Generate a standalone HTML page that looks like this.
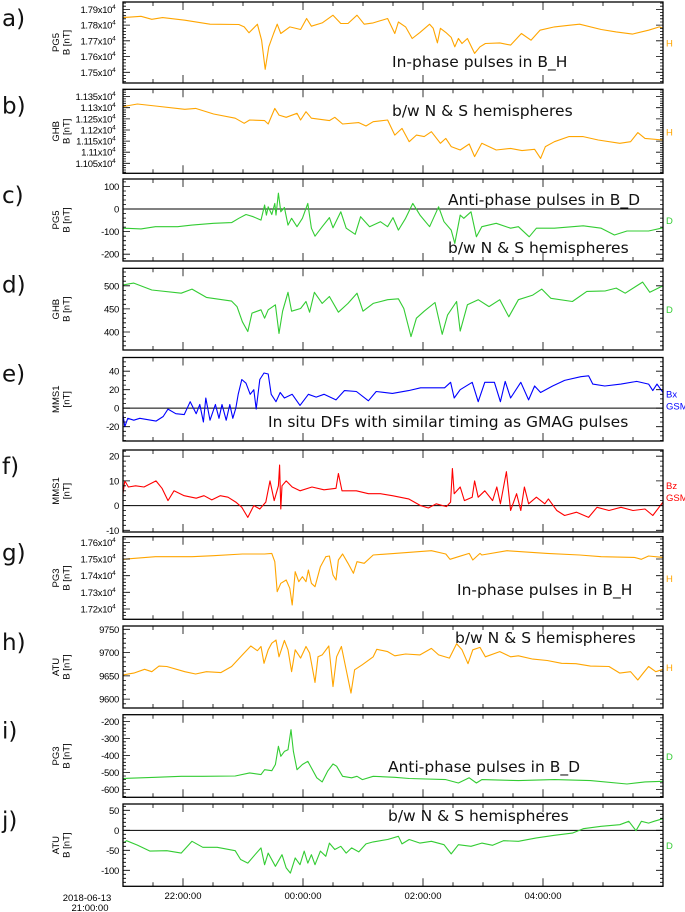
<!DOCTYPE html>
<html><head><meta charset="utf-8">
<style>
html,body{margin:0;padding:0;background:#fff;}
svg{display:block;}
.tl{font-family:"Liberation Sans",Arial,sans-serif;font-size:9.5px;fill:#000;}
.ytl{font-family:"Liberation Sans",Arial,sans-serif;font-size:9.5px;fill:#000;letter-spacing:-0.3px;}
.ann{font-family:"DejaVu Sans","Liberation Sans",sans-serif;font-size:15.5px;fill:#111;}
.let{font-family:"DejaVu Sans","Liberation Sans",sans-serif;font-size:23px;fill:#111;}
</style></head>
<body>
<svg id="chart" width="685" height="912" viewBox="0 0 685 912" xmlns="http://www.w3.org/2000/svg"></svg>
<script>
// ---- data: time in hours since 2018-06-13 21:00 ----
const aTimes=[0,0.30,0.48,0.66,1.03,1.45,1.93,2.02,2.10,2.24,2.31,2.37,2.43,2.51,2.57,2.63,2.78,2.96,3.06,3.14,3.32,3.50,3.63,3.75,3.90,4.02,4.17,4.41,4.53,4.59,4.71,4.82,4.95,5.11,5.17,5.24,5.29,5.38,5.47,5.53,5.59,5.65,5.74,5.86,5.95,6.04,6.28,6.46,6.64,6.80,6.95,7.19,7.43,7.61,7.97,8.22,8.49,8.76,8.94,9.0];
const aValues=[17848,17856,17837,17848,17831,17806,17804,17789,17751,17806,17704,17519,17662,17747,17806,17747,17789,17772,17842,17793,17814,17863,17810,17810,17863,17806,17814,17842,17747,17820,17789,17715,17754,17806,17780,17687,17780,17754,17722,17662,17715,17683,17715,17620,17662,17683,17687,17673,17747,17704,17768,17789,17799,17806,17772,17757,17743,17768,17789,17780];
const bTimes=[0,0.24,0.54,1.03,1.21,1.51,1.87,2.02,2.11,2.36,2.42,2.53,2.60,2.72,2.90,2.96,3.05,3.14,3.44,3.53,3.66,3.93,4.05,4.17,4.41,4.53,4.65,4.77,4.89,5.02,5.14,5.29,5.38,5.47,5.62,5.77,5.86,5.98,6.10,6.22,6.46,6.65,6.86,6.96,7.04,7.19,7.43,7.67,7.92,8.28,8.46,8.58,8.70,9.0];
const bValues=[11305,11317,11308,11293,11297,11272,11253,11230,11245,11242,11227,11297,11267,11257,11275,11245,11282,11253,11242,11257,11227,11233,11218,11237,11245,11177,11207,11147,11177,11170,11192,11140,11162,11125,11110,11137,11080,11140,11125,11110,11117,11107,11113,11072,11125,11147,11170,11170,11155,11140,11147,11188,11162,11155];
const cTimes=[0,0.30,0.54,0.91,1.15,1.51,1.81,1.93,2.05,2.17,2.30,2.36,2.39,2.42,2.48,2.53,2.55,2.59,2.63,2.69,2.75,2.81,2.90,2.99,3.08,3.14,3.20,3.32,3.44,3.50,3.63,3.72,3.87,3.96,4.11,4.29,4.41,4.50,4.59,4.71,4.83,4.95,5.11,5.26,5.35,5.47,5.53,5.62,5.68,5.80,5.89,5.98,6.22,6.46,6.59,6.77,6.89,7.19,7.67,7.97,8.19,8.40,8.76,9.0];
const cValues=[-85,-88,-78,-78,-71,-63,-60,-41,-24,-34,-49,18,-27,10,-24,25,-27,70,-12,7,-71,-41,-78,-41,25,-85,-120,-78,-38,-83,-12,-85,-112,-34,-78,-56,-78,-38,-93,-41,25,-27,-78,10,-56,-93,-152,-27,-41,-12,-123,-78,-63,-85,-78,-123,-85,-85,-74,-85,-115,-97,-97,-83];
const dTimes=[0,0.18,0.48,0.97,1.15,1.39,1.81,1.90,1.99,2.08,2.15,2.30,2.36,2.42,2.54,2.60,2.66,2.75,2.81,2.96,3.05,3.11,3.19,3.32,3.44,3.59,3.75,3.90,4.00,4.17,4.41,4.59,4.68,4.80,4.89,5.02,5.20,5.32,5.41,5.56,5.62,5.74,5.92,6.10,6.28,6.43,6.59,6.83,6.98,7.13,7.49,7.73,8.04,8.22,8.37,8.66,8.78,9.0];
const dValues=[502,506,491,484,493,475,467,455,422,401,441,448,430,448,459,397,445,486,445,451,466,443,486,462,477,443,462,484,445,462,470,472,451,390,430,445,464,395,437,466,402,459,470,455,470,433,470,480,493,473,466,488,489,495,484,508,486,500];
const eTimes=[0,0.03,0.08,0.18,0.28,0.55,0.67,0.75,0.88,1.02,1.12,1.22,1.28,1.34,1.38,1.45,1.54,1.60,1.65,1.72,1.78,1.83,1.88,1.92,1.98,2.05,2.12,2.18,2.22,2.28,2.35,2.42,2.47,2.55,2.62,2.69,2.82,2.95,3.09,3.22,3.35,3.55,3.69,3.89,4.09,4.22,4.49,4.76,4.96,5.36,5.46,5.52,5.62,5.82,5.92,6.03,6.19,6.29,6.37,6.46,6.63,6.76,6.86,6.96,7.16,7.36,7.63,7.76,7.83,8.03,8.30,8.56,8.76,8.83,8.90,9.0];
const eValues=[-7,-20,-11,-13,-11,-14,-9,-1,-6,-7,7,-6,4,-15,11,-13,4,-11,4,-13,4,-11,0,15,31,27,15,20,-1,31,38,37,15,7,17,11,15,3,15,12,15,9,19,18,8,18,16,19,22,22,28,11,20,28,7,28,28,7,29,11,28,9,24,17,24,30,34,35,26,24,26,29,26,19,26,17];
const fTimes=[0,0.03,0.09,0.21,0.35,0.55,0.65,0.75,0.85,1.02,1.22,1.35,1.48,1.62,1.75,1.88,1.98,2.08,2.18,2.28,2.38,2.45,2.52,2.59,2.61,2.63,2.65,2.72,2.82,2.95,3.15,3.35,3.55,3.59,3.65,3.89,4.09,4.29,4.49,4.76,4.96,5.09,5.22,5.39,5.46,5.49,5.52,5.62,5.69,5.82,5.86,5.92,6.03,6.16,6.23,6.29,6.39,6.46,6.56,6.63,6.69,6.76,6.89,7.03,7.09,7.23,7.36,7.56,7.76,7.90,8.10,8.30,8.50,8.70,8.83,9.0];
const fValues=[4.8,10,7.5,8,7.5,10,7,2,6,4,3,4,2.3,4,3.4,1.4,-0.7,-4.8,0,-1.4,1.4,10,2,8,16.4,-1.4,8,10,7.5,6,7.5,6.4,7,13,6,6,4.8,4.8,4,2.7,0,-1,0.7,-0.4,1.4,15,4.8,7.5,2,3.4,10,3.4,6,2,7.5,0.7,13.7,-2,4.8,-2,7.5,0.7,3.4,0.7,2.7,-2,-4,-2.7,-4.8,-0.7,-2,-0.7,-2,-1.4,-4,1.4];
const gTimes=[0,0.54,1.15,1.51,1.99,2.36,2.48,2.53,2.57,2.63,2.72,2.78,2.82,2.87,2.93,2.99,3.05,3.09,3.14,3.20,3.29,3.38,3.44,3.50,3.55,3.59,3.66,3.75,3.84,3.90,4.02,4.17,4.53,5.14,5.38,5.45,5.59,5.77,5.83,5.95,5.98,6.40,7.07,7.61,7.97,8.52,8.64,8.76,9.0];
const gValues=[17498,17514,17514,17520,17530,17530,17534,17484,17304,17354,17374,17324,17224,17424,17364,17394,17364,17434,17354,17334,17454,17514,17518,17404,17374,17494,17530,17474,17414,17484,17474,17524,17534,17550,17530,17498,17514,17534,17494,17534,17524,17550,17534,17524,17514,17510,17498,17518,17510];
const hTimes=[0,0.18,0.36,0.48,0.60,0.73,1.03,1.21,1.39,1.63,1.81,1.99,2.13,2.24,2.30,2.35,2.42,2.48,2.55,2.60,2.69,2.75,2.81,2.87,2.96,3.05,3.11,3.20,3.25,3.32,3.43,3.50,3.56,3.64,3.72,3.80,3.86,3.99,4.17,4.23,4.41,4.53,4.71,4.95,5.14,5.26,5.44,5.56,5.65,5.75,5.83,5.95,6.04,6.28,6.46,6.59,6.83,7.07,7.31,7.55,7.79,8.10,8.28,8.46,8.58,8.67,8.76,8.88,9.0];
const hValues=[9652,9656,9664,9659,9671,9670,9659,9654,9659,9657,9670,9695,9714,9704,9713,9677,9706,9720,9727,9691,9726,9706,9659,9706,9688,9713,9699,9636,9691,9695,9714,9627,9691,9713,9663,9613,9663,9674,9691,9707,9702,9693,9697,9695,9709,9695,9688,9719,9706,9676,9706,9711,9691,9702,9691,9693,9686,9683,9677,9676,9671,9670,9656,9659,9641,9656,9670,9659,9664];
const iTimes=[0,0.54,0.97,1.33,1.87,2.11,2.30,2.36,2.48,2.54,2.59,2.63,2.69,2.75,2.80,2.84,2.90,2.99,3.08,3.14,3.23,3.32,3.41,3.50,3.56,3.66,3.81,3.90,3.99,4.17,4.53,4.77,5.38,5.59,5.77,5.89,5.98,6.59,7.19,7.79,8.40,8.70,9.0];
const iValues=[-535,-528,-522,-522,-520,-502,-512,-483,-489,-453,-346,-405,-376,-366,-249,-376,-483,-453,-434,-473,-531,-555,-492,-450,-463,-522,-531,-522,-541,-522,-528,-535,-541,-561,-531,-561,-541,-547,-541,-547,-567,-555,-551];
const jTimes=[0,0.06,0.24,0.45,0.73,0.97,1.15,1.33,1.57,1.87,1.96,2.08,2.20,2.30,2.36,2.42,2.54,2.65,2.72,2.79,2.87,2.95,3.02,3.08,3.14,3.20,3.29,3.38,3.44,3.53,3.63,3.72,3.81,3.93,4.05,4.17,4.41,4.59,4.65,4.77,4.95,5.14,5.35,5.47,5.59,5.80,5.98,6.16,6.34,6.59,6.89,7.19,7.49,7.67,7.97,8.28,8.43,8.55,8.64,8.76,8.85,9.0];
const jValues=[-32,-26,-37,-52,-51,-57,-27.5,-42.5,-42.5,-51,-73,-82,-61,-44,-86,-57,-90,-61,-94,-107,-69,-86,-52,-82,-61,-86,-52,-65,-32,-48,-40,-57,-44,-54,-34,-29,-23,-15,-34,-23,-32,-27.5,-36,-59,-36,-40,-32,-37.5,-26,-27.5,-19,-12.5,-7,4,10,14,22.5,-1,22.5,18,22.5,29];
// tick values and labels
const aTicks=[17500,17600,17700,17800,17900]; const aLabels=['1.75','1.76','1.77','1.78','1.79'];
const bTicks=[11050,11100,11150,11200,11250,11300,11350]; const bLabels=['1.105','1.11','1.115','1.12','1.125','1.13','1.135'];
const cTicks=[-200,-100,0,100]; const cLabels=['-200','-100','0','100'];
const dTicks=[400,450,500]; const dLabels=['400','450','500'];
const eTicks=[-20,0,20,40]; const eLabels=['-20','0','20','40'];
const fTicks=[-10,0,10,20]; const fLabels=['-10','0','10','20'];
const gTicks=[17200,17300,17400,17500,17600]; const gLabels=['1.72','1.73','1.74','1.75','1.76'];
const hTicks=[9600,9650,9700,9750]; const hLabels=['9600','9650','9700','9750'];
const iTicks=[-600,-500,-400,-300,-200]; const iLabels=['-600','-500','-400','-300','-200'];
const jTicks=[-100,-50,0,50]; const jLabels=['-100','-50','0','50'];
const xTickHours=[1,3,5,7]; const xTickLabels=['22:00:00','00:00:00','02:00:00','04:00:00'];

const X0=123,X1=663,T0=0,T1=9;
function xs(t){return X0+(t-T0)/(T1-T0)*(X1-X0);}
const ORANGE='#ffa500',GREEN='#33cc33',BLUE='#0000ff',RED='#ff0000';
const panels=[
 {id:'a',top:2,bot:83,min:17432,max:17947,t:aTimes,v:aValues,ticks:aTicks,labels:aLabels,exp:true,minor:20,color:ORANGE,st:'PG5',u:'B [nT]',rl:['H'],zero:false,ann:[['In-phase pulses in B_H',392,67]]},
 {id:'b',top:89.3,bot:173.3,min:11005,max:11383,t:bTimes,v:bValues,ticks:bTicks,labels:bLabels,exp:true,minor:10,color:ORANGE,st:'GHB',u:'B [nT]',rl:['H'],zero:false,ann:[['b/w N & S hemispheres',392,116]]},
 {id:'c',top:179,bot:261,min:-230,max:133,t:cTimes,v:cValues,ticks:cTicks,labels:cLabels,minor:20,color:GREEN,st:'PG5',u:'B [nT]',rl:['D'],zero:true,ann:[['Anti-phase pulses in B_D',448,205],['b/w N & S hemispheres',448,253]]},
 {id:'d',top:268.3,bot:350,min:361,max:538,t:dTimes,v:dValues,ticks:dTicks,labels:dLabels,minor:10,color:GREEN,st:'GHB',u:'B [nT]',rl:['D'],zero:false,ann:[]},
 {id:'e',top:357.5,bot:441,min:-35.5,max:54.8,t:eTimes,v:eValues,ticks:eTicks,labels:eLabels,minor:5,color:BLUE,st:'MMS1',u:'[nT]',rl:['Bx','GSM'],zero:true,ann:[['In situ DFs with similar timing as GMAG pulses',268,427]]},
 {id:'f',top:450,bot:532,min:-10.7,max:22.5,t:fTimes,v:fValues,ticks:fTicks,labels:fLabels,minor:2,color:RED,st:'MMS1',u:'[nT]',rl:['Bz','GSM'],zero:true,ann:[]},
 {id:'g',top:536.7,bot:619.3,min:17138,max:17634,t:gTimes,v:gValues,ticks:gTicks,labels:gLabels,exp:true,minor:20,color:ORANGE,st:'PG3',u:'B [nT]',rl:['H'],zero:false,ann:[['In-phase pulses in B_H',457,595]]},
 {id:'h',top:626,bot:708,min:9581,max:9757,t:hTimes,v:hValues,ticks:hTicks,labels:hLabels,minor:10,color:ORANGE,st:'ATU',u:'B [nT]',rl:['H'],zero:false,ann:[['b/w N & S hemispheres',455,643]]},
 {id:'i',top:714.7,bot:797.3,min:-645,max:-161,t:iTimes,v:iValues,ticks:iTicks,labels:iLabels,minor:20,color:GREEN,st:'PG3',u:'B [nT]',rl:['D'],zero:false,ann:[['Anti-phase pulses in B_D',388,772]]},
 {id:'j',top:804,bot:886.3,min:-140,max:65.8,t:jTimes,v:jValues,ticks:jTicks,labels:jLabels,minor:10,color:GREEN,st:'ATU',u:'B [nT]',rl:['D'],zero:true,ann:[['b/w N & S hemispheres',388,821]]}
];
const NS='http://www.w3.org/2000/svg';
const svg=document.getElementById('chart');
function mk(tag,attrs,parent){const e=document.createElementNS(NS,tag);for(const k in attrs)e.setAttribute(k,attrs[k]);(parent||svg).appendChild(e);return e;}

panels.forEach(p=>{
  const ys=v=>p.bot-(v-p.min)/(p.max-p.min)*(p.bot-p.top);
  const g=mk('g',{});
  
  
  const L=mk('text',{x:2,y:p.top+24,class:'let'},g);L.textContent=p.id+')';
  
  
  const cy=(p.top+p.bot)/2;
  const yt=mk('text',{class:'tl','text-anchor':'middle',transform:'translate(59,'+cy+') rotate(-90)'},g);
  
  
  const s1=mk('tspan',{x:0,y:0},yt);s1.textContent=p.st;
  const s2=mk('tspan',{x:0,y:10.5},yt);s2.textContent=p.u;
  const cp=mk('clipPath',{id:'clip'+p.id},g);
  mk('rect',{x:X0,y:p.top,width:X1-X0,height:p.bot-p.top},cp);
  if(p.zero){const z=mk('line',{x1:X0,x2:X1,y1:ys(0),y2:ys(0),stroke:'#000','stroke-width':1},g);
    
    }
  let d='';p.t.forEach((t,i)=>{d+=(i?'L':'M')+xs(t).toFixed(1)+','+ys(p.v[i]).toFixed(1);});
  const ln=mk('path',{d:d,fill:'none',stroke:p.color,'stroke-width':1.1,'stroke-linejoin':'round','clip-path':'url(#clip'+p.id+')'},g);
  
  
  let tk='';
  const m0=Math.ceil(p.min/p.minor)*p.minor;
  for(let v=m0;v<=p.max;v+=p.minor){const y=ys(v).toFixed(1);tk+='M'+X0+','+y+'h3M'+X1+','+y+'h-3';}
  p.ticks.forEach(v=>{const y=ys(v).toFixed(1);tk+='M'+X0+','+y+'h7M'+X1+','+y+'h-7';});
  for(let h=0.5;h<9;h+=0.5){const x=xs(h).toFixed(1);const big=(Math.abs(h%2-1)<0.01);const len=big?8:4;tk+='M'+x+','+p.top+'v'+len+'M'+x+','+p.bot+'v-'+len;}
  const tp=mk('path',{d:tk,stroke:'#000','stroke-width':0.8,fill:'none'},g);
  
  
  const fr=mk('rect',{x:X0,y:p.top,width:X1-X0,height:p.bot-p.top,fill:'none',stroke:'#000','stroke-width':1.3},g);
  
  
  p.ticks.forEach((v,i)=>{
    const t=mk('text',{x:119,y:ys(v)+3.5,class:'ytl','text-anchor':'end'},g);
    
    
    if(p.exp){t.setAttribute('x',115.5);t.textContent=p.labels[i]+'x10';const sp=mk('tspan',{dy:-4,'font-size':'6.5px'},t);sp.textContent='4';}
    else t.textContent=p.labels[i];
  });
  p.rl.forEach((s,i)=>{const r=mk('text',{x:666,y:cy+4+i*12-(p.rl.length-1)*6,class:'tl',style:'fill:'+p.color},g);r.textContent=s;
    
    });
  p.ann.forEach(a=>{const t=mk('text',{x:a[1],y:a[2],class:'ann'},g);t.textContent=a[0];
    
    });
});
xTickHours.forEach((h,i)=>{const t=mk('text',{x:xs(h),y:899,class:'tl','text-anchor':'middle'});t.textContent=xTickLabels[i];
  
  });
const d1=mk('text',{x:87,y:901,class:'tl','text-anchor':'middle'});d1.textContent='2018-06-13';


const d2=mk('text',{x:90,y:911,class:'tl','text-anchor':'middle'});d2.textContent='21:00:00';


</script>
</body></html>
